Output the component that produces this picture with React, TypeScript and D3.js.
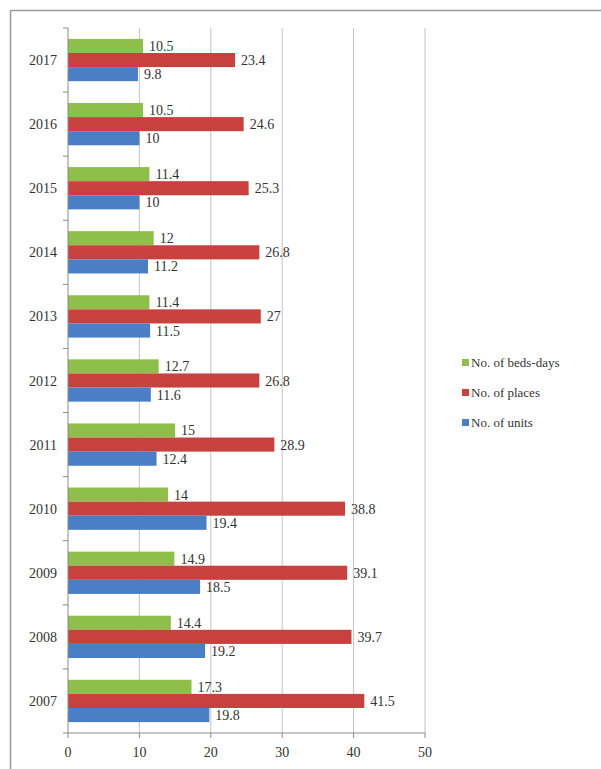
import React from "react";
import * as d3 from "d3";

const years = ["2017", "2016", "2015", "2014", "2013", "2012", "2011", "2010", "2009", "2008", "2007"];
const bedsDays = [10.5, 10.5, 11.4, 12, 11.4, 12.7, 15, 14, 14.9, 14.4, 17.3];
const places = [23.4, 24.6, 25.3, 26.8, 27, 26.8, 28.9, 38.8, 39.1, 39.7, 41.5];
const units = [9.8, 10, 10, 11.2, 11.5, 11.6, 12.4, 19.4, 18.5, 19.2, 19.8];
const seriesNames = ["No. of beds-days", "No. of places", "No. of units"];
const seriesColors = ["#8fbf4a", "#c8413f", "#4a7fc6"];
const xTicks = [0, 10, 20, 30, 40, 50];

const seriesData = [bedsDays, places, units];

export default function App() {
  const W = 601, H = 769;
  const left = 68, right = 425, top = 28, bottom = 733;
  const x = d3.scaleLinear().domain([0, 50]).range([left, right]);
  const y = d3.scaleBand<string>().domain(years).range([top, bottom]).paddingInner(0.34).paddingOuter(0.17);
  const inner = d3.scaleBand<number>().domain([0, 1, 2]).range([0, y.bandwidth()]).padding(0);
  const step = (bottom - top) / years.length;
  const font = "'Liberation Serif', 'Times New Roman', serif";

  return (
    <svg width={W} height={H} style={{ position: "absolute", left: 0, top: 0, background: "#fff" }}>
      <rect x={10.5} y={10.5} width={W + 10} height={H + 10} fill="#fff" stroke="#9a9a9a" strokeWidth={1.5} />
      {xTicks.map((t) => (
        <g key={t}>
          {t > 0 && <line x1={x(t)} x2={x(t)} y1={top} y2={bottom} stroke="#c4c4c4" strokeWidth={1} />}
          <line x1={x(t)} x2={x(t)} y1={bottom} y2={bottom + 5} stroke="#8a8a8a" />
          <text x={x(t)} y={bottom + 24} textAnchor="middle" fontFamily={font} fontSize={14} fill="#333">{t}</text>
        </g>
      ))}
      {years.map((yr, i) => (
        <g key={yr}>
          {seriesData.map((s, k) => {
            const by = (y(yr) as number) + (inner(k) as number);
            const bh = inner.bandwidth();
            return (
              <g key={k}>
                <rect x={x(0)} y={by} width={x(s[i]) - x(0)} height={bh} fill={seriesColors[k]} />
                <text x={x(s[i]) + 6} y={by + bh / 2 + 5} fontFamily={font} fontSize={14} fill="#333">{s[i]}</text>
              </g>
            );
          })}
          <text x={57} y={(y(yr) as number) + y.bandwidth() / 2 + 5} textAnchor="end" fontFamily={font} fontSize={14} fill="#333">{yr}</text>
        </g>
      ))}
      {d3.range(years.length + 1).map((j) => (
        <line key={j} x1={left - 5} x2={left} y1={top + j * step} y2={top + j * step} stroke="#8a8a8a" />
      ))}
      <line x1={left} x2={left} y1={top} y2={bottom} stroke="#8a8a8a" />
      <line x1={left} x2={right} y1={bottom} y2={bottom} stroke="#8a8a8a" />
      {seriesNames.map((n, k) => (
        <g key={n}>
          <rect x={462} y={359 + k * 30} width={7} height={7} fill={seriesColors[k]} />
          <text x={471} y={367 + k * 30} fontFamily={font} fontSize={13} fill="#333">{n}</text>
        </g>
      ))}
    </svg>
  );
}
